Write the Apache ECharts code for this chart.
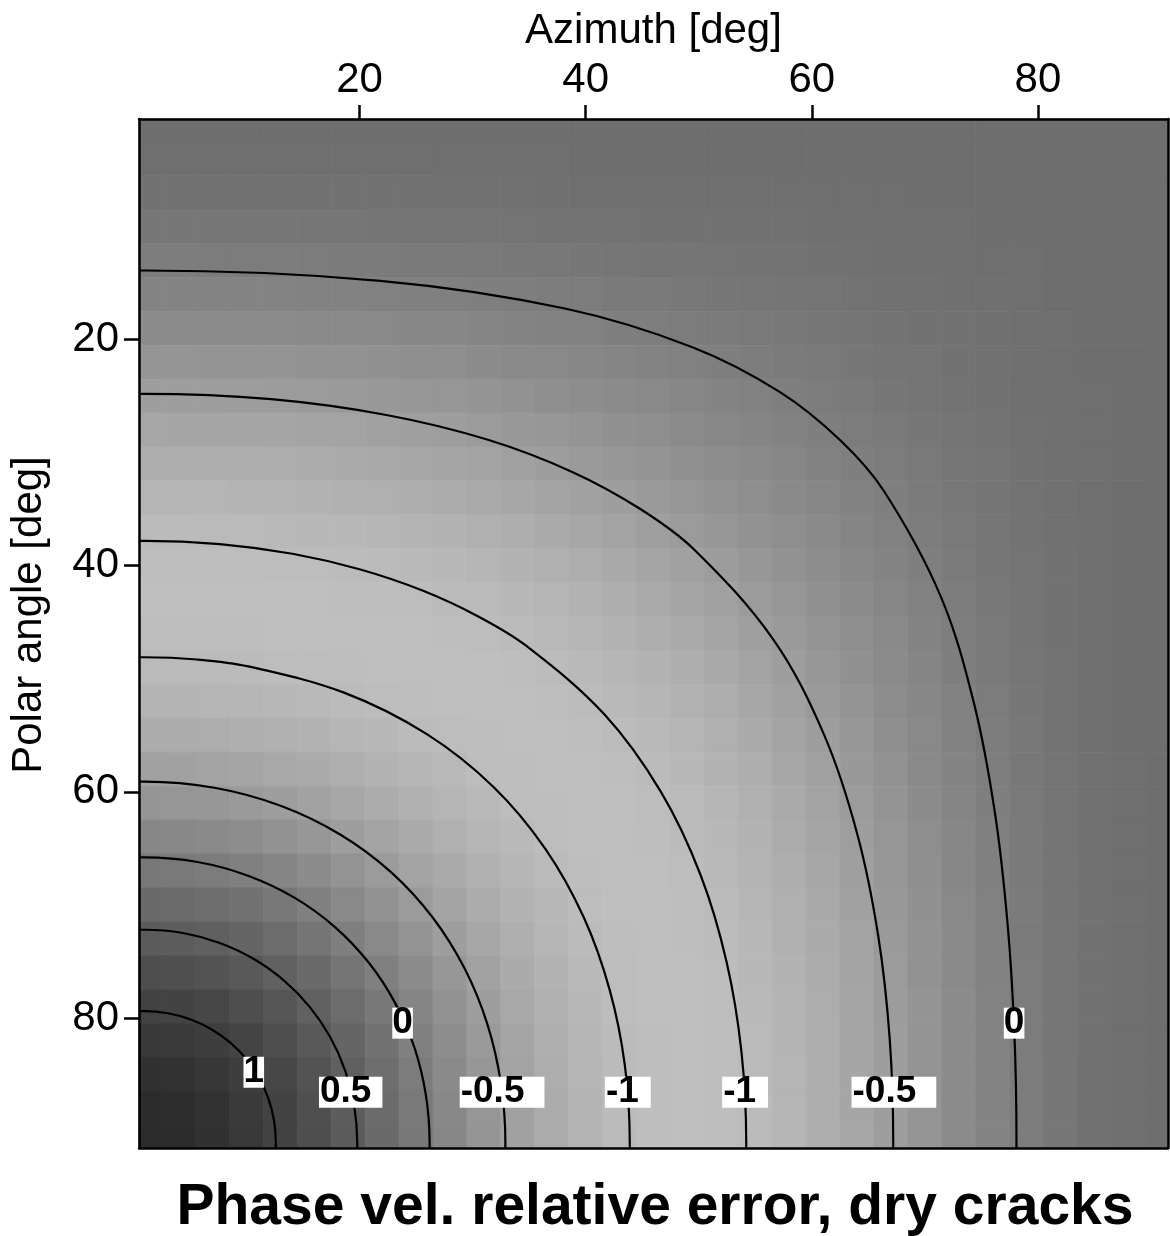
<!DOCTYPE html>
<html>
<head>
<meta charset="utf-8">
<script src="https://cdn.jsdelivr.net/npm/echarts@6/dist/echarts.min.js"></script>
<style>
html,body{margin:0;padding:0;background:#ffffff;}
#chart{width:1170px;height:1236px;}
</style>
</head>
<body>
<div id="chart"></div>
<script>
// ---------------- data ----------------
const titleText = 'Phase vel. relative error, dry cracks';
const xAxisName = 'Azimuth [deg]';
const yAxisName = 'Polar angle [deg]';
const azimuthTicks = [20, 40, 60, 80];
const polarTicks = [20, 40, 60, 80];
const axisMin = 0.5;
const axisMax = 91.5;

// cell centres (grid index units, as on the axes)
const azimuthCenters = [1,4,7,10,13,16,19,22,25,28,31,34,37,40,43,46,49,52,55,58,61,64,67,70,73,76,79,82,85,88,91];
const polarCenters   = [1,4,7,10,13,16,19,22,25,28,31,34,37,40,43,46,49,52,55,58,61,64,67,70,73,76,79,82,85,88,91];

// relative error per cell: one row per polar centre, one column per azimuth centre
const errorGrid = [
[0.26,0.26,0.26,0.26,0.26,0.26,0.26,0.26,0.26,0.26,0.26,0.26,0.26,0.26,0.26,0.26,0.26,0.26,0.26,0.26,0.26,0.26,0.26,0.26,0.26,0.26,0.26,0.26,0.26,0.26,0.26],
[0.25,0.25,0.25,0.25,0.25,0.25,0.25,0.25,0.25,0.25,0.25,0.25,0.25,0.26,0.26,0.26,0.26,0.26,0.26,0.26,0.26,0.26,0.26,0.26,0.26,0.26,0.26,0.26,0.26,0.26,0.26],
[0.20,0.20,0.21,0.21,0.21,0.21,0.21,0.21,0.21,0.22,0.22,0.22,0.23,0.23,0.23,0.23,0.24,0.24,0.24,0.25,0.25,0.25,0.25,0.26,0.26,0.26,0.26,0.26,0.26,0.26,0.26],
[0.13,0.13,0.13,0.13,0.14,0.14,0.14,0.15,0.15,0.16,0.16,0.17,0.18,0.18,0.19,0.20,0.20,0.21,0.22,0.22,0.23,0.24,0.24,0.25,0.25,0.26,0.26,0.26,0.26,0.26,0.26],
[0.03,0.03,0.04,0.04,0.04,0.05,0.06,0.06,0.07,0.08,0.09,0.10,0.11,0.12,0.14,0.15,0.16,0.17,0.18,0.19,0.21,0.22,0.23,0.23,0.24,0.25,0.25,0.26,0.26,0.26,0.26],
[-0.08,-0.08,-0.08,-0.08,-0.07,-0.06,-0.05,-0.04,-0.03,-0.02,0.00,0.01,0.03,0.05,0.07,0.08,0.10,0.12,0.14,0.16,0.17,0.19,0.20,0.22,0.23,0.24,0.25,0.26,0.26,0.26,0.26],
[-0.22,-0.22,-0.21,-0.21,-0.20,-0.19,-0.18,-0.16,-0.14,-0.13,-0.11,-0.08,-0.06,-0.04,-0.01,0.01,0.04,0.06,0.09,0.11,0.14,0.16,0.18,0.20,0.21,0.23,0.24,0.25,0.26,0.26,0.26],
[-0.36,-0.36,-0.35,-0.35,-0.34,-0.32,-0.31,-0.29,-0.27,-0.25,-0.22,-0.19,-0.17,-0.13,-0.10,-0.07,-0.04,0.00,0.03,0.06,0.09,0.12,0.15,0.17,0.20,0.22,0.23,0.25,0.26,0.26,0.26],
[-0.50,-0.50,-0.50,-0.49,-0.48,-0.46,-0.44,-0.42,-0.40,-0.37,-0.34,-0.31,-0.27,-0.24,-0.20,-0.16,-0.12,-0.08,-0.04,0.00,0.04,0.08,0.12,0.15,0.18,0.20,0.23,0.24,0.25,0.26,0.26],
[-0.65,-0.64,-0.64,-0.63,-0.62,-0.60,-0.58,-0.56,-0.53,-0.50,-0.46,-0.43,-0.39,-0.34,-0.30,-0.25,-0.20,-0.15,-0.10,-0.06,-0.01,0.04,0.08,0.12,0.16,0.19,0.22,0.24,0.25,0.26,0.26],
[-0.77,-0.77,-0.77,-0.76,-0.75,-0.73,-0.71,-0.68,-0.65,-0.62,-0.58,-0.54,-0.50,-0.45,-0.40,-0.35,-0.29,-0.23,-0.18,-0.12,-0.06,-0.01,0.04,0.09,0.14,0.17,0.21,0.23,0.25,0.26,0.26],
[-0.88,-0.88,-0.88,-0.87,-0.86,-0.84,-0.82,-0.80,-0.77,-0.73,-0.70,-0.65,-0.61,-0.55,-0.50,-0.44,-0.38,-0.31,-0.25,-0.18,-0.12,-0.06,0.00,0.06,0.11,0.16,0.19,0.22,0.25,0.26,0.26],
[-0.97,-0.97,-0.96,-0.96,-0.95,-0.93,-0.92,-0.89,-0.87,-0.84,-0.80,-0.76,-0.71,-0.65,-0.59,-0.53,-0.46,-0.39,-0.32,-0.25,-0.18,-0.10,-0.04,0.03,0.09,0.14,0.18,0.22,0.24,0.26,0.26],
[-1.02,-1.02,-1.02,-1.02,-1.01,-1.00,-0.99,-0.97,-0.95,-0.92,-0.89,-0.85,-0.80,-0.75,-0.69,-0.62,-0.55,-0.47,-0.39,-0.31,-0.23,-0.15,-0.08,0.00,0.06,0.12,0.17,0.21,0.24,0.26,0.26],
[-1.04,-1.04,-1.04,-1.04,-1.04,-1.04,-1.03,-1.02,-1.00,-0.98,-0.96,-0.92,-0.88,-0.83,-0.77,-0.70,-0.63,-0.55,-0.46,-0.38,-0.29,-0.20,-0.12,-0.04,0.04,0.10,0.16,0.20,0.24,0.26,0.26],
[-1.02,-1.03,-1.03,-1.03,-1.04,-1.04,-1.04,-1.04,-1.04,-1.03,-1.01,-0.98,-0.94,-0.90,-0.84,-0.77,-0.70,-0.62,-0.53,-0.44,-0.35,-0.25,-0.16,-0.07,0.01,0.08,0.15,0.20,0.23,0.26,0.26],
[-0.96,-0.97,-0.97,-0.98,-1.00,-1.01,-1.02,-1.04,-1.04,-1.04,-1.04,-1.02,-0.99,-0.95,-0.90,-0.84,-0.77,-0.69,-0.59,-0.50,-0.40,-0.30,-0.20,-0.10,-0.01,0.07,0.14,0.19,0.23,0.26,0.26],
[-0.86,-0.87,-0.88,-0.90,-0.92,-0.95,-0.97,-1.00,-1.02,-1.04,-1.04,-1.04,-1.02,-0.99,-0.95,-0.90,-0.83,-0.75,-0.65,-0.55,-0.45,-0.34,-0.24,-0.13,-0.04,0.05,0.12,0.18,0.23,0.26,0.26],
[-0.73,-0.73,-0.75,-0.78,-0.81,-0.85,-0.89,-0.93,-0.97,-1.01,-1.03,-1.04,-1.04,-1.02,-0.99,-0.94,-0.88,-0.80,-0.71,-0.61,-0.50,-0.39,-0.27,-0.17,-0.06,0.03,0.11,0.18,0.23,0.26,0.26],
[-0.56,-0.56,-0.59,-0.62,-0.67,-0.72,-0.78,-0.84,-0.90,-0.95,-1.00,-1.03,-1.04,-1.04,-1.02,-0.98,-0.92,-0.85,-0.76,-0.65,-0.54,-0.43,-0.31,-0.19,-0.08,0.01,0.10,0.17,0.22,0.25,0.26],
[-0.36,-0.37,-0.39,-0.44,-0.50,-0.57,-0.65,-0.73,-0.81,-0.88,-0.95,-1.00,-1.03,-1.04,-1.04,-1.01,-0.96,-0.89,-0.80,-0.70,-0.58,-0.46,-0.34,-0.22,-0.11,0.00,0.09,0.16,0.22,0.25,0.26],
[-0.13,-0.15,-0.18,-0.24,-0.31,-0.40,-0.50,-0.60,-0.70,-0.80,-0.88,-0.95,-1.01,-1.04,-1.04,-1.03,-0.98,-0.92,-0.84,-0.73,-0.62,-0.50,-0.37,-0.25,-0.13,-0.02,0.08,0.16,0.22,0.25,0.26],
[0.10,0.09,0.04,-0.02,-0.11,-0.22,-0.33,-0.46,-0.58,-0.70,-0.81,-0.90,-0.97,-1.02,-1.04,-1.04,-1.00,-0.95,-0.87,-0.77,-0.65,-0.53,-0.40,-0.27,-0.14,-0.03,0.07,0.15,0.21,0.25,0.26],
[0.34,0.32,0.27,0.20,0.10,-0.03,-0.16,-0.31,-0.46,-0.60,-0.73,-0.84,-0.93,-1.00,-1.04,-1.04,-1.02,-0.97,-0.89,-0.80,-0.68,-0.56,-0.42,-0.29,-0.16,-0.04,0.06,0.15,0.21,0.25,0.26],
[0.57,0.55,0.50,0.41,0.30,0.16,0.00,-0.16,-0.33,-0.50,-0.65,-0.78,-0.89,-0.97,-1.02,-1.04,-1.03,-0.99,-0.92,-0.82,-0.71,-0.58,-0.44,-0.31,-0.18,-0.05,0.06,0.14,0.21,0.25,0.26],
[0.79,0.77,0.71,0.61,0.48,0.33,0.16,-0.03,-0.22,-0.40,-0.57,-0.72,-0.85,-0.95,-1.01,-1.04,-1.04,-1.00,-0.93,-0.84,-0.73,-0.60,-0.46,-0.32,-0.19,-0.06,0.05,0.14,0.21,0.25,0.26],
[0.98,0.96,0.89,0.79,0.65,0.48,0.30,0.10,-0.11,-0.31,-0.50,-0.67,-0.81,-0.92,-1.00,-1.04,-1.04,-1.01,-0.95,-0.86,-0.75,-0.62,-0.48,-0.34,-0.20,-0.07,0.04,0.14,0.21,0.25,0.26],
[1.14,1.11,1.05,0.94,0.79,0.61,0.41,0.20,-0.02,-0.24,-0.44,-0.62,-0.78,-0.90,-0.98,-1.03,-1.04,-1.02,-0.96,-0.87,-0.76,-0.63,-0.49,-0.35,-0.21,-0.08,0.04,0.14,0.21,0.25,0.26],
[1.26,1.23,1.16,1.05,0.89,0.71,0.50,0.27,0.04,-0.18,-0.39,-0.59,-0.75,-0.88,-0.97,-1.03,-1.04,-1.02,-0.96,-0.88,-0.77,-0.64,-0.50,-0.35,-0.21,-0.08,0.04,0.13,0.21,0.25,0.26],
[1.33,1.31,1.23,1.11,0.96,0.77,0.55,0.32,0.09,-0.15,-0.37,-0.56,-0.73,-0.87,-0.97,-1.03,-1.04,-1.02,-0.97,-0.88,-0.77,-0.64,-0.50,-0.36,-0.22,-0.08,0.03,0.13,0.20,0.25,0.26],
[1.35,1.33,1.26,1.14,0.98,0.79,0.57,0.34,0.10,-0.13,-0.36,-0.56,-0.73,-0.86,-0.96,-1.02,-1.04,-1.02,-0.97,-0.88,-0.77,-0.65,-0.50,-0.36,-0.22,-0.08,0.03,0.13,0.20,0.25,0.26]
];

// contour lines: [azimuth, polar] points
const contour1 = [[12.6,91.5],[12.6,91],[12.43,89.0],[11.92,87.06],[11.08,85.23],[9.94,83.57],[8.52,82.14],[6.86,80.97],[5.02,80.11],[3.04,79.58],[1,79.4],[0.5,79.4]];
const contour05 = [[19.8,91.5],[19.8,91],[19.53,87.79],[18.74,84.67],[17.43,81.72],[15.61,79.04],[13.34,76.71],[10.66,74.79],[7.64,73.37],[4.38,72.49],[1,72.2],[0.5,72.2]];
const contour0a = [[26.2,91.5],[26.2,91],[25.86,86.76],[24.86,82.63],[23.17,78.71],[20.83,75.12],[17.83,71.96],[14.24,69.36],[10.14,67.42],[5.67,66.21],[1,65.8],[0.5,65.8]];
const contourM05a = [[32.9,91.5],[32.9,91],[32.5,85.74],[31.32,80.59],[29.32,75.68],[26.49,71.14],[22.81,67.12],[18.29,63.77],[13.02,61.23],[7.17,59.64],[1,59.1],[0.5,59.1]];
const contourM1a = [[43.9,91.5],[43.9,91],[43.47,84.21],[42.13,77.54],[39.83,71.1],[36.45,65.06],[31.85,59.57],[25.92,54.88],[18.63,51.23],[10.16,48.91],[5.63,48.3],[1,48.1],[0.5,48.1]];
const contourM1b = [[54.2,91.5],[54.2,91],[53.78,83.01],[52.48,75.11],[50.18,67.4],[46.67,60.03],[41.67,53.17],[34.76,47.1],[30.46,44.47],[25.57,42.2],[20.08,40.34],[14.07,38.95],[7.65,38.09],[1,37.8],[0.5,37.8]];
const contourM05b = [[67.2,91.5],[67.2,91],[66.89,81.86],[65.88,72.77],[64.03,63.77],[61.09,54.97],[56.57,46.5],[49.61,38.59],[44.8,34.97],[38.81,31.71],[31.43,28.89],[22.5,26.7],[12.19,25.28],[1,24.8],[0.5,24.8]];
const contour0b = [[78.1,91.5],[78.1,91],[77.91,81.25],[77.3,71.53],[76.19,61.83],[74.35,52.2],[71.39,42.69],[66.39,33.42],[62.54,28.93],[57.19,24.65],[49.5,20.7],[38.17,17.26],[21.84,14.81],[1,13.9],[0.5,13.9]];
const contourLines = [contour1, contour05, contour0a, contourM05a, contourM1a, contourM1b, contourM05b, contour0b];

// contour labels
const contourLabelText = ['1', '0.5', '0', '-0.5', '-1', '-1', '-0.5', '0'];
const contourLabelAzimuth = [10.65, 19.22, 23.81, 32.61, 43.73, 54.10, 67.26, 77.89];
const contourLabelPolar = [84.80, 86.56, 80.46, 86.56, 86.56, 86.56, 86.56, 80.46];

// ---------------- styling ----------------
const FONT = '"Liberation Sans", Arial, Helvetica, sans-serif';
const CELL_HALF = 1.5;
const LABEL_RIGHT_PAD = {'1': 0, '0': 0, '0.5': 11, '-0.5': 20, '-1': 12};

const cellData = [];
for (let i = 0; i < polarCenters.length; i++) {
  for (let j = 0; j < azimuthCenters.length; j++) {
    cellData.push([azimuthCenters[j], polarCenters[i], errorGrid[i][j]]);
  }
}
let vMin = Infinity, vMax = -Infinity;
errorGrid.forEach(r => r.forEach(v => { if (v < vMin) vMin = v; if (v > vMax) vMax = v; }));

function renderCell(params, api) {
  const x = api.value(0), y = api.value(1);
  const x0 = Math.max(x - CELL_HALF, axisMin), x1 = Math.min(x + CELL_HALF, axisMax);
  const y0 = Math.max(y - CELL_HALF, axisMin), y1 = Math.min(y + CELL_HALF, axisMax);
  const p0 = api.coord([x0, y0]);
  const p1 = api.coord([x1, y1]);
  const color = api.visual('color');
  return {
    type: 'rect',
    shape: {
      x: Math.min(p0[0], p1[0]),
      y: Math.min(p0[1], p1[1]),
      width: Math.abs(p1[0] - p0[0]),
      height: Math.abs(p1[1] - p0[1])
    },
    style: { fill: color, stroke: color, lineWidth: 0.8 }
  };
}

const lineColor = '#000000';
const baseAxis = {
  type: 'value', min: axisMin, max: axisMax, z: 10,
  splitLine: { show: false },
  axisLine: { show: true, onZero: false, lineStyle: { color: lineColor, width: 2.5 } }
};

const series = [{
  type: 'custom',
  coordinateSystem: 'cartesian2d',
  xAxisIndex: 0, yAxisIndex: 0,
  renderItem: renderCell,
  encode: { x: 0, y: 1 },
  data: cellData,
  silent: true,
  animation: false,
  z: 1
}];

contourLines.forEach(pts => {
  series.push({
    type: 'line',
    xAxisIndex: 0, yAxisIndex: 0,
    data: pts,
    smooth: 0.35,
    symbol: 'none',
    showSymbol: false,
    lineStyle: { color: lineColor, width: 2.2 },
    silent: true,
    animation: false,
    z: 3
  });
});

series.push({
  type: 'scatter',
  xAxisIndex: 0, yAxisIndex: 0,
  symbol: 'circle',
  symbolSize: 0.1,
  itemStyle: { color: 'rgba(0,0,0,0)', opacity: 1 },
  silent: true,
  animation: false,
  z: 5,
  data: contourLabelText.map((t, k) => ({
    name: t,
    value: [contourLabelAzimuth[k], contourLabelPolar[k]],
    label: { padding: [0, LABEL_RIGHT_PAD[t] || 0, 0, (LABEL_RIGHT_PAD[t] ? 1 : 0)] }
  })),
  label: {
    show: true,
    position: 'inside',
    formatter: p => p.name,
    color: '#000000',
    opacity: 1,
    fontFamily: FONT,
    fontWeight: 'bold',
    fontSize: 37,
    lineHeight: 31,
    backgroundColor: '#ffffff'
  },
  labelLayout: { hideOverlap: false }
});

const chart = echarts.init(document.getElementById('chart'), null, { renderer: 'canvas' });
chart.setOption({
  backgroundColor: '#ffffff',
  animation: false,
  title: {
    text: titleText,
    left: 650,
    top: 1175,
    textAlign: 'center',
    textStyle: { fontFamily: FONT, fontSize: 57, fontWeight: 'bold', color: '#000', lineHeight: 56 }
  },
  grid: {
    left: 139, top: 119, right: 2, bottom: 88,
    containLabel: false,
    outerBoundsMode: 'none',
    show: false
  },
  visualMap: {
    type: 'continuous',
    show: false,
    seriesIndex: 0,
    dimension: 2,
    min: vMin,
    max: vMax,
    inRange: { color: ['#bfbfbf', '#2b2b2b'] }
  },
  xAxis: [
    Object.assign({}, baseAxis, {
      position: 'top',
      name: xAxisName,
      nameLocation: 'middle',
      nameGap: 67,
      nameTextStyle: { fontFamily: FONT, fontSize: 42, color: '#000', lineHeight: 42 },
      axisTick: { show: true, inside: false, length: 14, customValues: azimuthTicks, lineStyle: { color: lineColor, width: 2.5 } },
      axisLabel: { show: true, customValues: azimuthTicks, margin: 18, fontFamily: FONT, fontSize: 42, color: '#000', lineHeight: 42 }
    }),
    Object.assign({}, baseAxis, {
      position: 'bottom',
      axisTick: { show: false },
      axisLabel: { show: false }
    })
  ],
  yAxis: [
    Object.assign({}, baseAxis, {
      position: 'left',
      inverse: true,
      name: yAxisName,
      nameLocation: 'middle',
      nameGap: 89,
      nameTextStyle: { fontFamily: FONT, fontSize: 42, color: '#000', lineHeight: 42, padding: [0, 0, 0, 37] },
      axisTick: { show: true, inside: false, length: 15, customValues: polarTicks, lineStyle: { color: lineColor, width: 2.5 } },
      axisLabel: { show: true, customValues: polarTicks, margin: 20, fontFamily: FONT, fontSize: 42, color: '#000', lineHeight: 42 }
    }),
    Object.assign({}, baseAxis, {
      position: 'right',
      inverse: true,
      axisTick: { show: false },
      axisLabel: { show: false }
    })
  ],
  series: series
});
</script>
</body>
</html>
